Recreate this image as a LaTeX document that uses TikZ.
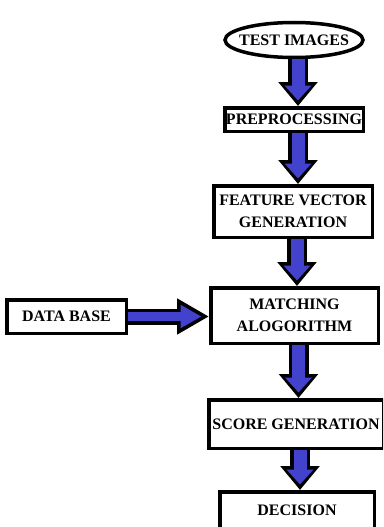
\documentclass[tikz,border=0pt]{standalone}
\usepackage{fontspec}
\setmainfont{Liberation Serif}
\usetikzlibrary{shapes.geometric,arrows.meta}
\definecolor{arrowblue}{RGB}{66,66,204}

\tikzset{
  box/.style={draw, line width=3.5pt, fill=white, inner sep=0pt, align=center,
    font=\bfseries\fontsize{16}{22}\selectfont},
  oval/.style={ellipse, draw, line width=3.5pt, fill=white, inner xsep=-10pt, inner ysep=0pt,
    font=\bfseries\fontsize{16}{22}\selectfont},
  arrowout/.style={line width=20pt, -{Triangle[length=24pt,width=38pt]}},
  arrowin/.style={arrowblue, line width=13pt, shorten >=5.5pt, -{Triangle[length=15pt,width=26pt]}},
  harrowout/.style={line width=16pt, -{Triangle[length=32pt,width=34pt]}},
  harrowin/.style={arrowblue, line width=9pt, shorten >=7.5pt, -{Triangle[length=21pt,width=22pt]}},
}

\begin{document}
\begin{tikzpicture}[x=1pt,y=-1pt]
\clip (0,0) rectangle (383,527);

\node[oval, minimum width=138pt, minimum height=35pt] (test) at (294,40) {TEST IMAGES};
\node[box, minimum width=138.5pt, minimum height=23.5pt] (pre) at (294,119.5) {PREPROCESSING};
\node[box, minimum width=158.5pt, minimum height=51.5pt] (fvg) at (293,211.5) {FEATURE VECTOR\\GENERATION};
\node[box, minimum width=167.5pt, minimum height=55.5pt] (match) at (294.5,315.5) {MATCHING\\ALOGORITHM};
\node[box, minimum width=119.5pt, minimum height=33.5pt] (db) at (66.5,316.5) {DATA BASE};
\node[box, minimum width=174.5pt, minimum height=48.5pt] (score) at (296,424) {SCORE GENERATION};
\node[box, minimum width=154.5pt, minimum height=36.5pt] (dec) at (297,510) {DECISION};

% block arrows down the chain
\foreach \a/\b in {test/pre,pre/fvg,fvg/match,match/score,score/dec}
{
\draw[arrowout] ([xshift=4pt]\a.south) -- ([xshift=4pt]\a.south |- \b.north);
\draw[arrowin] ([xshift=4pt]\a.south) -- ([xshift=4pt]\a.south |- \b.north);
}

% data base into matching
\draw[harrowout] (db.east) -- (db.east -| match.west);
\draw[harrowin] (db.east) -- (db.east -| match.west);
\end{tikzpicture}
\end{document}
